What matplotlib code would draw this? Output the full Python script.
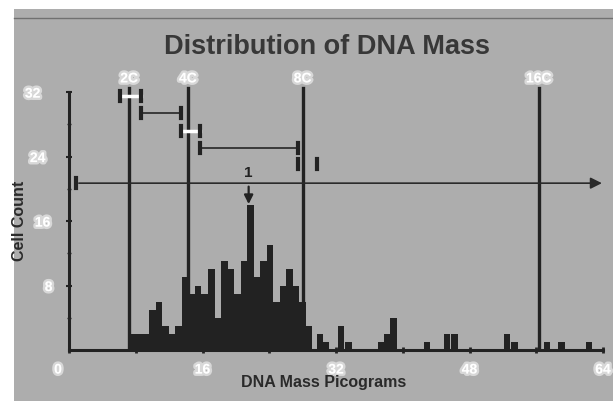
import numpy as np
import matplotlib.pyplot as plt
import matplotlib.patheffects as pe
from matplotlib.patches import Rectangle
from matplotlib.transforms import ScaledTranslation

plt.rcParams['font.family'] = ['Liberation Sans', 'DejaVu Sans']

# histogram bins (DNA mass in picograms, bin centres) and cell counts
mass = [7.69, 8.47, 9.25, 10.03, 10.81, 11.59, 12.37, 13.15, 13.93, 14.71,
        15.49, 16.27, 17.05, 17.83, 18.61, 19.39, 20.17, 20.95, 21.73, 22.51,
        23.29, 24.07, 24.85, 25.63, 26.41, 27.19, 27.97, 28.75,
        30.1, 30.8, 32.6, 33.5, 37.4, 38.2, 38.9, 42.9, 45.3, 46.2,
        52.5, 53.4, 57.3, 59.0, 62.3]
count = [2, 2, 2, 5, 6, 3, 2, 3, 9, 7,
         8, 7, 10, 4, 11, 10, 7, 11, 18, 9,
         11, 13, 6, 8, 10, 8, 6, 3,
         2, 1, 3, 1, 1, 2, 4, 1, 2, 2,
         2, 1, 1, 1, 1]
bin_width = 0.78

# ploidy reference lines
ploidy = ['2C', '4C', '8C', '16C']
ploidy_mass = [7.2, 14.25, 28.0, 56.3]

# range brackets: (start, end, level, style)
brackets = [(6.1, 8.6, 31.5, 'white'),
            (8.6, 13.4, 29.4, 'dark'),
            (13.4, 15.7, 27.2, 'white'),
            (15.7, 27.4, 25.1, 'dark'),
            (27.4, 29.7, 23.1, 'none')]
arrow_start, arrow_level = 0.85, 20.7
peak_mass, peak_count = 21.73, 18

bg = '#adadad'
ink = '#222222'

fig = plt.figure(figsize=(6.13, 4.01), dpi=100)
fig.patch.set_facecolor('white')
fig.add_artist(Rectangle((14 / 613, 0), 1, 1 - 9 / 401, transform=fig.transFigure,
                         facecolor=bg, edgecolor='none', zorder=-10))
fig.add_artist(plt.Line2D([14 / 613, 1], [1 - 18 / 401] * 2, transform=fig.transFigure,
                          color='#707070', lw=1))

ax = fig.add_axes([69 / 613, 51 / 401, 534 / 613, 36 * 8.06 / 401])
ax.patch.set_alpha(0)
ax.set_xlim(0, 64)
ax.set_ylim(0, 36)

ax.bar(mass, count, width=bin_width, color=ink, align='center', zorder=3)

glow = [pe.withStroke(linewidth=3.5, foreground='#f6f6f6', alpha=0.6)]

for name, m in zip(ploidy, ploidy_mass):
    ax.plot([m, m], [0, 32.5], color=ink, lw=2.4, zorder=4)
    ax.text(m, 33.7, name, color='white', fontsize=10, fontweight='bold',
            ha='center', va='center', path_effects=glow)

for x0, x1, lev, style in brackets:
    if style == 'dark':
        ax.plot([x0, x1], [lev, lev], color='#303030', lw=1.3, zorder=4)
    elif style == 'white':
        ax.plot([x0, x1], [lev, lev], color='white', lw=2.5, zorder=4)
    for xe in (x0, x1):
        ax.plot([xe, xe], [lev - 0.6, lev + 0.6], color=ink, lw=3, zorder=5)

ax.annotate('', xy=(64.2, arrow_level), xytext=(arrow_start, arrow_level),
            arrowprops=dict(arrowstyle='-|>', color='#2a2a2a', lw=1.2,
                            mutation_scale=17), zorder=4, annotation_clip=False)
ax.plot([arrow_start, arrow_start], [arrow_level - 0.6, arrow_level + 0.6],
        color=ink, lw=3, zorder=5)

ax.annotate('1', xy=(peak_mass - 0.2, peak_count + 0.1),
            xytext=(peak_mass - 0.2, peak_count + 4.0),
            ha='center', va='center', fontsize=11, fontweight='bold', color=ink,
            arrowprops=dict(arrowstyle='-|>', color=ink, lw=1.6, mutation_scale=13,
                            shrinkA=3, shrinkB=0))

for s in ['top', 'right']:
    ax.spines[s].set_visible(False)
ax.spines['left'].set_bounds(0, 32)
ax.spines['bottom'].set_bounds(0, 64)
for s in ['left', 'bottom']:
    ax.spines[s].set_color(ink)
    ax.spines[s].set_linewidth(2.2)

ax.set_xticks(np.arange(0, 65, 8))
ax.set_xticklabels(['0', '', '16', '', '32', '', '48', '', '64'])
ax.set_yticks([8, 16, 24, 32])
ax.set_yticks([4, 12, 20, 28], minor=True)
ax.tick_params(axis='x', direction='inout', length=4, width=2, color=ink,
               labelcolor='white', labelsize=10, pad=7)
ax.tick_params(axis='y', direction='inout', length=4, width=1.5, color=ink,
               labelcolor='white', labelsize=10, pad=17)
ax.tick_params(axis='y', which='minor', direction='inout', length=3, width=1, color=ink)

y_shift = {'32': -10, '24': -5, '16': 0, '8': 6}
for lab in ax.get_yticklabels():
    lab.set_fontweight('bold')
    lab.set_path_effects(glow)
    lab.set_ha('center')
    dx = y_shift.get(lab.get_text(), 0)
    lab.set_transform(lab.get_transform() + ScaledTranslation(dx / 100, 0, fig.dpi_scale_trans))
for lab in ax.get_xticklabels():
    lab.set_fontweight('bold')
    lab.set_path_effects(glow)
    if lab.get_text() == '0':
        lab.set_transform(lab.get_transform() + ScaledTranslation(-0.11, 0, fig.dpi_scale_trans))

fig.text(327 / 613, 1 - 47 / 401, 'Distribution of DNA Mass', ha='center', va='center',
         fontsize=19.5, fontweight='bold', color='#383838')
fig.text(324 / 613, 1 - 383 / 401, 'DNA Mass Picograms', ha='center', va='center',
         fontsize=11.5, fontweight='bold', color='#2a2a2a')
fig.text(20 / 613, 1 - 221 / 401, 'Cell Count', ha='center', va='center', rotation=90,
         fontsize=11.5, fontweight='bold', color='#2a2a2a')

fig.savefig('out.png', dpi=100, facecolor=fig.get_facecolor())
